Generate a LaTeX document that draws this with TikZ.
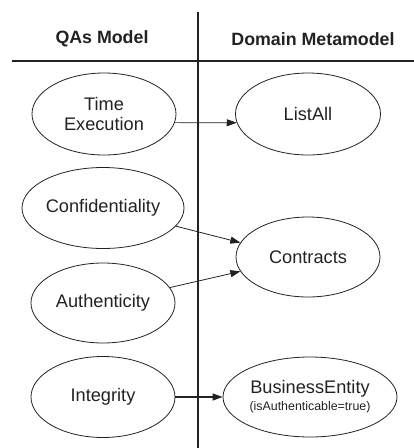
\documentclass[tikz,border=0pt]{standalone}
\usepackage{fontspec}
\setmainfont{Liberation Sans}
\usepackage{xcolor}
\definecolor{ink}{HTML}{222222}
\usepackage{tikz}
\usetikzlibrary{arrows.meta,positioning,shapes.geometric}

\begin{document}
\begin{tikzpicture}[
  x=1pt,y=-1pt,
  head/.style={font=\fontsize{17.8}{19}\selectfont\bfseries,text=ink},
  qa/.style={ellipse,draw=ink,line width=0.8pt,inner sep=0pt,align=center,font=\fontsize{18.2}{20}\selectfont,text=ink,minimum width=144pt,minimum height=82pt},
  arr/.style={-{Triangle[length=10pt,width=7pt]},line width=0.8pt,ink}]
  \useasboundingbox (0,0) rectangle (414,448);
  % columns
  \draw[ink,line width=1.1pt] (198,12) -- (198,448);
  \draw[ink,line width=1.1pt] (12,61) -- (414,61);
  \node[head] (qas) at (102,39) {QAs Model};
  \node[head] (dom) at (313,39) {Domain Metamodel};
  % QAs side
  \node[qa] (time) at (104,114) {Time\\Execution};
  \node[qa,minimum width=162pt,minimum height=81pt] (conf) at (103,208) {Confidentiality};
  \node[qa,minimum height=80pt] (auth) at (103,303) {Authenticity};
  \node[qa,minimum height=81pt] (integ) at (103,397) {Integrity};
  % domain side
  \node[qa,minimum width=145pt] (list) at (308,114) {ListAll};
  \node[qa,minimum height=80pt] (contr) at (308,257) {Contracts};
  \node[qa,minimum width=174pt,minimum height=80pt] (entity) at (310,397) {BusinessEntity\\[-3pt]{\fontsize{12.4}{13}\selectfont(isAuthenticable=true)}};
  \draw[arr,line width=0.6pt] (time.-7) -- (list.187);
  \draw[arr] (conf.-14) -- (contr.168);
  \draw[arr] (auth.13) -- (contr.192);
  \draw[arr,line width=1.2pt] (integ.east) -- (entity.west);
\end{tikzpicture}
\end{document}
